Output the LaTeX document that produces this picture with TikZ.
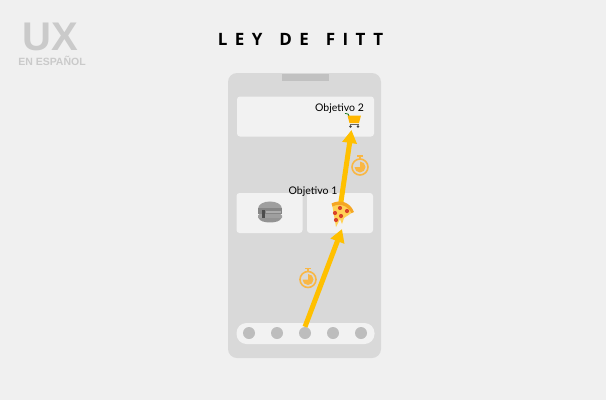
\documentclass[tikz,border=0pt]{standalone}
\usepackage{fontspec}
\setmainfont{Lato}
\newfontfamily\logofont{Liberation Sans}
\newfontfamily\titlefont[LetterSpace=44]{Open Sans}
\usetikzlibrary{positioning, arrows.meta}
\definecolor{bgc}{HTML}{F0F0F0}
\definecolor{phonec}{HTML}{D9D9D9}
\definecolor{cardc}{HTML}{F2F2F2}
\definecolor{dotc}{HTML}{BDBDBD}
\definecolor{logoc}{HTML}{CACACA}
\definecolor{arrowc}{HTML}{FFC000}
\definecolor{watchc}{HTML}{F9B744}
\definecolor{crustc}{HTML}{F5A623}
\definecolor{cheesec}{HTML}{FFD257}
\definecolor{peppc}{HTML}{D9432A}
\tikzset{
    card/.style={fill=cardc, rounded corners=3pt, minimum height=40pt, inner sep=0pt},
    navdot/.style={circle, fill=dotc, minimum size=12pt, inner sep=0pt},
    goal/.style={font=\fontsize{10.5pt}{12pt}\selectfont, text=black, inner sep=0pt},
    path/.style={draw=arrowc, line width=5pt, -{Triangle[length=13pt, width=14pt]}},
    pics/stopwatch/.style={code={
        \draw[watchc, line width=1.6pt] (0,0) circle (8pt);
        \fill[watchc] (0,0) -- (0,5.5pt) arc (90:-180:5.5pt) -- cycle;
        \draw[watchc, line width=1.5pt] (0,8pt) -- (0,10.5pt);
        \draw[watchc, line width=1.3pt] (-3pt,11pt) -- (3pt,11pt);
    }},
}
\begin{document}
\begin{tikzpicture}[x=1pt, y=-1pt]
    \useasboundingbox[fill=bgc] (0,0) rectangle (606,400);

    % logo and title
    \node[text=logoc, font=\logofont\bfseries\fontsize{40pt}{40pt}\selectfont, inner sep=0pt] (ux) at (50.5,37) {UX};
    \node[text=logoc, font=\logofont\bfseries\fontsize{10.5pt}{12pt}\selectfont, inner sep=0pt] (es) at (52,60.5) {EN ESPAÑOL};
    \node[font=\titlefont\bfseries\fontsize{17pt}{17pt}\selectfont, inner sep=0pt] (title) at (300.5,39.5) {LEY\hspace{5pt} DE\hspace{5pt} FITT};

    % phone
    \node[fill=phonec, rounded corners=9pt, minimum width=153pt, minimum height=285pt, inner sep=0pt] (phone) at (304.5,215.5) {};
    \node[fill=dotc!85!phonec, minimum width=47pt, minimum height=7pt, inner sep=0pt] (speaker) at (305,77) {};
    \node[card, minimum width=137pt] (top) at (305.5,116.5) {};
    \node[card, minimum width=66pt] (left) at (269.5,213) {};
    \node[card, minimum width=66pt] (right) at (340,213) {};
    \node[fill=cardc, rounded corners=10pt, minimum width=138pt, minimum height=21pt, inner sep=0pt] (bar) at (305.5,333.5) {};
    \foreach \i/\x in {1/249, 2/277, 3/305, 4/333, 5/361}
        \node[navdot] (d\i) at (\x,333) {};

    % arrows
    \coordinate (pizzatip) at (342,229);
    \coordinate (pizzaout) at (340.5,205);
    \coordinate (carttip) at (351.5,130);
    \draw[path] (d3.north) -- (pizzatip);
    \draw[path] (pizzaout) -- (carttip);

    % pizza
    \fill[cheesec] (332,204) .. controls (340,201) and (348,203) .. (353,212) -- (344,218) -- (342,224) -- (340,219) -- (336,227) -- cycle;
    \fill[crustc] (331.5,203.5) .. controls (340,199) and (350,202) .. (354,212) -- (351.5,213) .. controls (348,206) and (340,202.5) .. (332.5,206.5) -- cycle;
    \foreach \x/\y in {340/208, 347/211, 335/213, 341/216, 336/220}
        \fill[peppc] (\x,\y) circle (2.1pt);

    % burger
    \fill[gray!75] (258,209) .. controls (258,198.5) and (282,198.5) .. (282,209) -- cycle;
    \fill[gray!95] (258,208) rectangle (282,214);
    \fill[gray!65] (266,211) rectangle (281,212.5);
    \fill[gray!75, rounded corners=1.5pt] (258,214) rectangle (282,219);
    \fill[gray!60!black] (262,210) rectangle (265,219);
    \fill[gray!85] (259,218) -- (281,218) .. controls (281,224) and (259,224) .. (259,218) -- cycle;

    % cart
    \draw[black!60!green, line width=.7pt] (345,113.5) -- (348,114) -- (349,116);
    \fill[arrowc!85!orange] (347.5,115.5) -- (361,115.5) -- (359,123) -- (349.5,123) -- cycle;
    \draw[black!60, line width=.8pt] (349.5,124.5) -- (359,124.5);
    \fill[black!75] (350.5,126.5) circle (1.3pt) (358,126.5) circle (1.3pt);

    % labels
    \node[goal] (goal2) at (339.5,109) {Objetivo 2};
    \node[goal] (goal1) at (313,192) {Objetivo 1};

    % stopwatches
    \pic at (360,167) {stopwatch};
    \pic at (308,279.5) {stopwatch};
\end{tikzpicture}
\end{document}
